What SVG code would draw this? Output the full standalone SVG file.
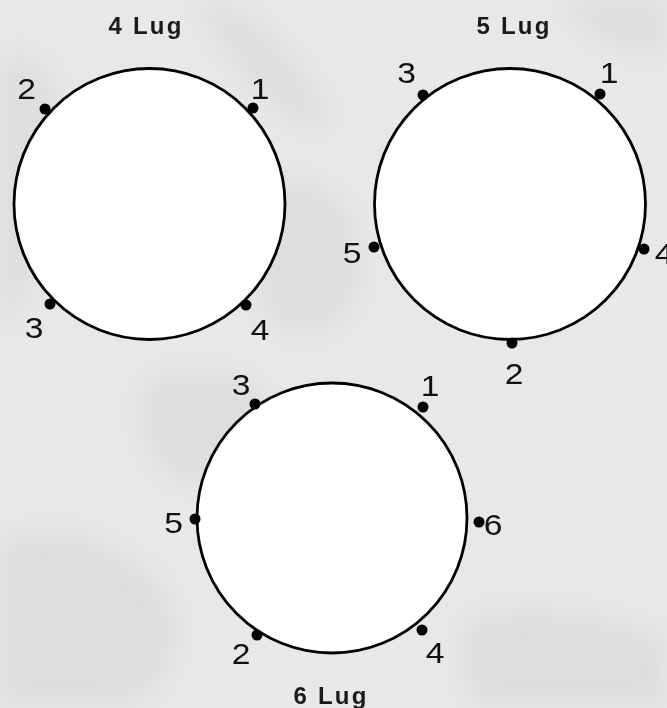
<svg xmlns="http://www.w3.org/2000/svg" width="667" height="708" viewBox="0 0 667 708">
  <defs>
    <filter id="soft" x="-20%" y="-20%" width="140%" height="140%">
      <feGaussianBlur stdDeviation="12"/>
    </filter>
    <style>
      .wheel { fill: #ffffff; stroke: #000000; stroke-width: 2.8; }
      .lug { fill: #000000; }
      .num { font-family: "Liberation Sans", Arial, sans-serif; font-size: 30px; fill: #111111; text-anchor: middle; }
      .title { font-family: "Liberation Sans", Arial, sans-serif; font-size: 24px; font-weight: bold; fill: #1a1a1a; text-anchor: middle; letter-spacing: 2.2px; }
      .blob { fill: #d4d4d4; opacity: 0.5; }
    </style>
  </defs>

  <!-- mottled background -->
  <rect x="0" y="0" width="667" height="708" fill="#e8e8e8"/>
  <g id="background" filter="url(#soft)">
    <path class="blob" d="M0,60 C40,40 70,90 60,160 C55,230 30,300 0,330 Z"/>
    <path class="blob" d="M270,180 C320,170 370,210 360,280 C350,330 300,350 270,320 C250,280 250,220 270,180 Z"/>
    <path class="blob" d="M150,380 C200,360 260,370 280,420 C290,470 230,500 180,480 C140,460 130,410 150,380 Z"/>
    <path class="blob" d="M0,540 C60,520 130,540 170,600 C190,650 160,708 100,708 L0,708 Z"/>
    <path class="blob" d="M470,620 C520,600 600,610 667,640 L667,708 L480,708 C460,680 455,640 470,620 Z"/>
    <path class="blob" d="M560,0 L667,0 L667,50 C630,60 590,40 560,0 Z"/>
    <path class="blob" d="M200,0 C260,10 300,60 330,120 C310,140 270,110 240,70 C220,40 200,20 200,0 Z"/>
  </g>

  <g id="lug4">
    <text class="title" x="146" y="34">4 Lug</text>
    <circle class="wheel" cx="149.5" cy="204" r="135.5"/>
    <circle class="lug" cx="45" cy="109" r="5.5"/>
    <circle class="lug" cx="253" cy="108" r="5.5"/>
    <circle class="lug" cx="50" cy="304" r="5.5"/>
    <circle class="lug" cx="246" cy="305" r="5.5"/>
    <text class="num" transform="translate(26.5,99) scale(1.12,1)">2</text>
    <text class="num" transform="translate(260,99) scale(1.12,1)">1</text>
    <text class="num" transform="translate(34,338) scale(1.12,1)">3</text>
    <text class="num" transform="translate(260,340) scale(1.12,1)">4</text>
  </g>

  <g id="lug5">
    <text class="title" x="514" y="34">5 Lug</text>
    <circle class="wheel" cx="510" cy="204" r="135.5"/>
    <circle class="lug" cx="423" cy="95" r="5.5"/>
    <circle class="lug" cx="600" cy="94" r="5.5"/>
    <circle class="lug" cx="374" cy="247" r="5.5"/>
    <circle class="lug" cx="644" cy="249" r="5.5"/>
    <circle class="lug" cx="512" cy="343" r="5.5"/>
    <text class="num" transform="translate(406.5,83) scale(1.12,1)">3</text>
    <text class="num" transform="translate(609,83) scale(1.12,1)">1</text>
    <text class="num" transform="translate(352,263) scale(1.12,1)">5</text>
    <text class="num" transform="translate(664,264) scale(1.12,1)">4</text>
    <text class="num" transform="translate(514,384) scale(1.12,1)">2</text>
  </g>

  <g id="lug6">
    <circle class="wheel" cx="332" cy="518" r="135"/>
    <circle class="lug" cx="255" cy="404" r="5.5"/>
    <circle class="lug" cx="423" cy="407" r="5.5"/>
    <circle class="lug" cx="195" cy="519" r="5.5"/>
    <circle class="lug" cx="479" cy="522" r="5.5"/>
    <circle class="lug" cx="257" cy="635" r="5.5"/>
    <circle class="lug" cx="422" cy="630" r="5.5"/>
    <text class="num" transform="translate(241,395) scale(1.12,1)">3</text>
    <text class="num" transform="translate(430,396) scale(1.12,1)">1</text>
    <text class="num" transform="translate(173.5,533) scale(1.12,1)">5</text>
    <text class="num" transform="translate(493,535) scale(1.12,1)">6</text>
    <text class="num" transform="translate(241,664) scale(1.12,1)">2</text>
    <text class="num" transform="translate(435,663) scale(1.12,1)">4</text>
    <text class="title" x="331" y="704">6 Lug</text>
  </g>

  <g id="connectors"/>
</svg>
